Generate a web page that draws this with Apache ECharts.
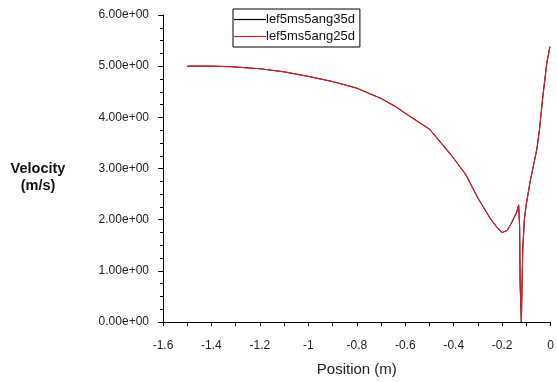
<!DOCTYPE html>
<html>
<head>
<meta charset="utf-8">
<script src="https://cdn.jsdelivr.net/npm/echarts@6/dist/echarts.min.js"></script>
<style>
  html, body { margin: 0; padding: 0; background: #fff; }
  #chart { width: 557px; height: 382px; }
</style>
</head>
<body>
<div id="chart"></div>
<script>
// Position along the line (m)
const positions = [
  -1.5, -1.4, -1.32, -1.2, -1.1, -1.0, -0.9, -0.8, -0.7, -0.644,
  -0.6, -0.5, -0.41, -0.35, -0.3, -0.25, -0.22, -0.2, -0.18, -0.16,
  -0.14, -0.132, -0.128, -0.126, -0.121, -0.117, -0.115, -0.108, -0.101, -0.085,
  -0.057, -0.046, -0.032, -0.016, -0.003
];
// Velocity magnitude (m/s)
const velocity35 = [
  5.00, 5.00, 4.99, 4.95, 4.89, 4.80, 4.70, 4.57, 4.37, 4.22,
  4.08, 3.77, 3.26, 2.88, 2.42, 2.03, 1.84, 1.75, 1.79, 1.95,
  2.15, 2.29, 1.84, 0.74, 0.00, 1.00, 1.45, 2.03, 2.29, 2.74,
  3.38, 3.77, 4.42, 5.06, 5.38
];
const velocity25 = velocity35.slice();
const seriesNames = ['lef5ms5ang35d', 'lef5ms5ang25d'];
const seriesColors = ['#000000', '#d0202a'];
const xRange = [-1.6, 0];
const yRange = [0, 6];

const pairs = (xs, ys) => xs.map((x, i) => [x, ys[i]]);
const sci = v => {
  const [m, e] = v.toExponential(2).split('e');
  return m + 'e' + e[0] + e.slice(1).padStart(2, '0');
};

const chart = echarts.init(document.getElementById('chart'), null, { renderer: 'canvas' });
chart.setOption({
  animation: false,
  textStyle: { fontFamily: 'Liberation Sans, Arial, sans-serif' },
  grid: { left: 163, right: 3, top: 15, bottom: 57, containLabel: false },
  legend: {
    orient: 'vertical',
    left: 233,
    top: 9,
    padding: [3, 5, 3, 1],
    itemGap: 2,
    itemWidth: 32,
    itemHeight: 1.2,
    icon: 'rect',
    borderColor: '#000',
    borderWidth: 1,
    data: seriesNames,
    textStyle: { fontSize: 13, color: '#111', padding: [0, 0, 0, -5], lineHeight: 15 }
  },
  xAxis: {
    type: 'value',
    min: xRange[0],
    max: xRange[1],
    interval: 0.2,
    name: 'Position (m)',
    nameLocation: 'middle',
    nameGap: 39,
    nameTextStyle: { fontSize: 15, color: '#222' },
    axisLine: { show: true, lineStyle: { color: '#000', width: 1 } },
    axisTick: { show: true, length: 4, lineStyle: { color: '#000' } },
    minorTick: { show: true, splitNumber: 2, length: 4, lineStyle: { color: '#000' } },
    splitLine: { show: false },
    minorSplitLine: { show: false },
    axisLabel: {
      fontSize: 12, color: '#222', margin: 13, lineHeight: 22,
      formatter: v => (Math.abs(v) < 1e-9 ? '0' : String(+v.toFixed(1)))
    }
  },
  yAxis: {
    type: 'value',
    min: yRange[0],
    max: yRange[1],
    interval: 1,
    name: '\nVelocity\n(m/s)',
    nameLocation: 'middle',
    nameGap: 125,
    nameRotate: 0,
    nameTextStyle: {
      fontSize: 14.5, fontWeight: 'bold', color: '#111', lineHeight: 17.5, align: 'center'
    },
    axisLine: { show: true, onZero: false, lineStyle: { color: '#000', width: 1 } },
    axisTick: { show: true, length: 5, lineStyle: { color: '#000' } },
    minorTick: { show: true, splitNumber: 4, length: 3, lineStyle: { color: '#000' } },
    splitLine: { show: false },
    minorSplitLine: { show: false },
    axisLabel: { fontSize: 12, color: '#222', margin: 14, formatter: sci }
  },
  series: [
    {
      name: seriesNames[0],
      type: 'line',
      data: pairs(positions, velocity35),
      symbol: 'none',
      color: seriesColors[0],
      lineStyle: { width: 1, color: seriesColors[0] }
    },
    {
      name: seriesNames[1],
      type: 'line',
      data: pairs(positions, velocity25),
      symbol: 'none',
      color: seriesColors[1],
      lineStyle: { width: 1.2, color: seriesColors[1] }
    }
  ]
});

// Frame lines along the left and bottom edges, placed through the chart's own scales
const origin = chart.convertToPixel({ gridIndex: 0 }, [xRange[0], yRange[0]]);
const topLeft = chart.convertToPixel({ gridIndex: 0 }, [xRange[0], yRange[1]]);
const bottomRight = chart.convertToPixel({ gridIndex: 0 }, [xRange[1], yRange[0]]);
const crisp = v => Math.round(v) + 0.5;
chart.setOption({
  graphic: [
    {
      type: 'line', z: 100, silent: true,
      shape: { x1: crisp(origin[0]), y1: topLeft[1], x2: crisp(origin[0]), y2: origin[1] + 0.5 },
      style: { stroke: '#000', lineWidth: 1 }
    },
    {
      type: 'line', z: 100, silent: true,
      shape: { x1: origin[0], y1: crisp(origin[1]), x2: bottomRight[0], y2: crisp(origin[1]) },
      style: { stroke: '#000', lineWidth: 1 }
    }
  ]
});
</script>
</body>
</html>
